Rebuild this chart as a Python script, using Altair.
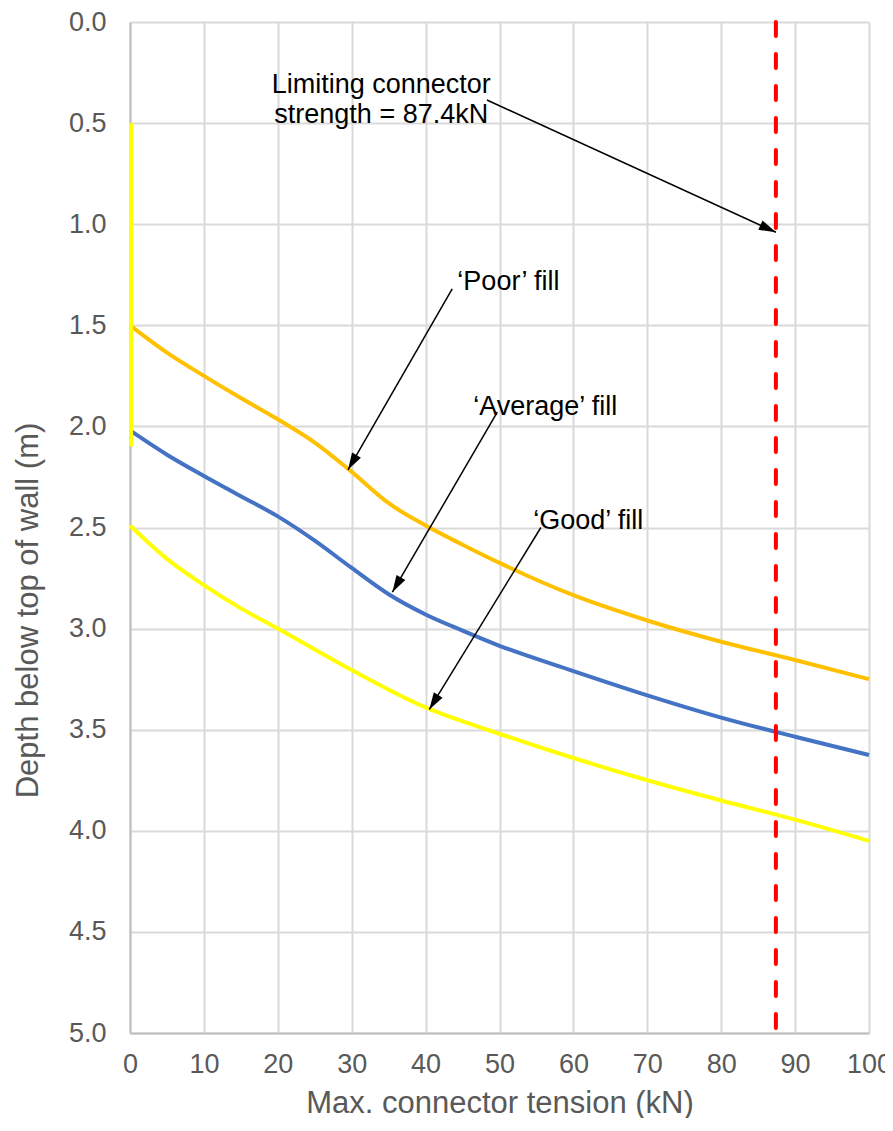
import math
import altair as alt
import pandas as pd

W, H = 739, 1011

# ---- data ----
poor_x = [0, 5, 10, 15, 20, 25, 30, 35, 40, 45, 50, 60, 70, 80, 90, 100]
poor_y = [1.50, 1.635, 1.75, 1.86, 1.965, 2.08, 2.225, 2.38, 2.49, 2.585, 2.675, 2.835, 2.96, 3.065, 3.155, 3.25]

avg_x = [0, 5, 10, 15, 20, 25, 30, 35, 40, 45, 50, 60, 70, 80, 90, 100]
avg_y = [2.02, 2.14, 2.245, 2.345, 2.445, 2.565, 2.70, 2.83, 2.93, 3.01, 3.085, 3.21, 3.33, 3.44, 3.535, 3.625]

good_x = [0, 5, 10, 15, 20, 30, 40, 50, 60, 70, 80, 90, 100]
good_y = [2.49, 2.655, 2.785, 2.90, 3.00, 3.205, 3.39, 3.52, 3.64, 3.75, 3.85, 3.945, 4.05]

stem_x = [0.15, 0.15]
stem_y = [0.5, 2.1]

limit_kn = 87.4
limit_y = [0.0, 5.0]

labels = ["Limiting connector\nstrength = 87.4kN", "\u2018Poor\u2019 fill", "\u2018Average\u2019 fill", "\u2018Good\u2019 fill"]
label_x = [34.0, 51.2, 56.2, 62.0]
label_y = [0.31, 1.286, 1.904, 2.468]
arrow_x1 = [48.3, 43.6, 49.7, 55.6]
arrow_y1 = [0.386, 1.32, 1.93, 2.50]
arrow_x2 = [87.4, 29.5, 35.5, 40.5]
arrow_y2 = [1.04, 2.215, 2.82, 3.40]

FONT = "Liberation Sans"

curves = pd.DataFrame(
    [{"series": "Poor", "order": i, "x": a, "y": b} for i, (a, b) in enumerate(zip(poor_x, poor_y))]
    + [{"series": "Average", "order": i, "x": a, "y": b} for i, (a, b) in enumerate(zip(avg_x, avg_y))]
    + [{"series": "Good", "order": i, "x": a, "y": b} for i, (a, b) in enumerate(zip(good_x, good_y))]
)
stem = pd.DataFrame({"x": stem_x, "y": stem_y})
limit = pd.DataFrame({"x": [limit_kn, limit_kn], "y": limit_y})

ann = pd.DataFrame({
    "text": labels, "tx": label_x, "ty": label_y,
    "x1": arrow_x1, "y1": arrow_y1, "x2": arrow_x2, "y2": arrow_y2,
})
def head_angle(r):
    dx = (r.x2 - r.x1) * W / 100.0
    dy = (r.y2 - r.y1) * H / 5.0
    return math.degrees(math.atan2(dx, -dy)) % 360
ann["angle"] = ann.apply(head_angle, axis=1)

xscale = alt.Scale(domain=[0, 100], nice=False)
yscale = alt.Scale(domain=[0, 5], nice=False, reverse=True)

xaxis = alt.Axis(title="Max. connector tension (kN)", values=list(range(0, 101, 10)),
                 grid=True, ticks=False, labelPadding=18, titlePadding=11, labelFlush=False)
yaxis = alt.Axis(title="Depth below top of wall (m)", values=[i * 0.5 for i in range(11)],
                 format=".1f", grid=True, ticks=False, labelPadding=24, titlePadding=24,
                 titleY=588, labelFlush=False)

base_x = alt.X("x:Q", scale=xscale, axis=xaxis)
base_y = alt.Y("y:Q", scale=yscale, axis=yaxis)

lines = alt.Chart(curves).mark_line(strokeWidth=4, interpolate="monotone").encode(
    x=base_x, y=base_y,
    color=alt.Color("series:N", scale=alt.Scale(domain=["Poor", "Average", "Good"],
                                                range=["#FFC000", "#4472C4", "#FFFF00"]), legend=None),
    order="order:Q",
)

stem_line = alt.Chart(stem).mark_line(strokeWidth=4, color="#FFFF00").encode(
    x=alt.X("x:Q", scale=xscale), y=alt.Y("y:Q", scale=yscale))

limit_line = alt.Chart(limit).mark_line(strokeWidth=4, color="#FF0000", strokeDash=[14, 18],
                                        strokeCap="round").encode(
    x=alt.X("x:Q", scale=xscale), y=alt.Y("y:Q", scale=yscale))

arrows = alt.Chart(ann).mark_rule(color="black", strokeWidth=1.5).encode(
    x=alt.X("x1:Q", scale=xscale), y=alt.Y("y1:Q", scale=yscale),
    x2="x2:Q", y2="y2:Q")

heads = alt.Chart(ann).mark_point(shape="M0,0 L0.3,1 L-0.3,1 Z", filled=True, color="black",
                                  opacity=1, size=1156, strokeWidth=0).encode(
    x=alt.X("x2:Q", scale=xscale), y=alt.Y("y2:Q", scale=yscale),
    angle=alt.Angle("angle:Q", scale=None))

texts = alt.Chart(ann).mark_text(font=FONT, fontSize=27, color="black", align="center",
                                 baseline="middle", lineBreak="\n", lineHeight=30).encode(
    x=alt.X("tx:Q", scale=xscale), y=alt.Y("ty:Q", scale=yscale), text="text:N")

chart = alt.layer(lines, stem_line, limit_line, arrows, heads, texts).properties(
    width=W, height=H, background="white",
    autosize=alt.AutoSizeParams(type="none"),
    padding={"left": 122, "top": 14, "right": 16, "bottom": 85},
).configure_view(stroke=None).configure_axis(
    labelFont=FONT, titleFont=FONT, labelFontSize=27, titleFontSize=31,
    labelColor="#595959", titleColor="#595959", titleFontWeight="normal",
    gridColor="#d9d9d9", gridWidth=2, domainColor="#bfbfbf", domainWidth=2,
)

chart.save("out.html", embed_options={"renderer": "svg", "actions": False})
